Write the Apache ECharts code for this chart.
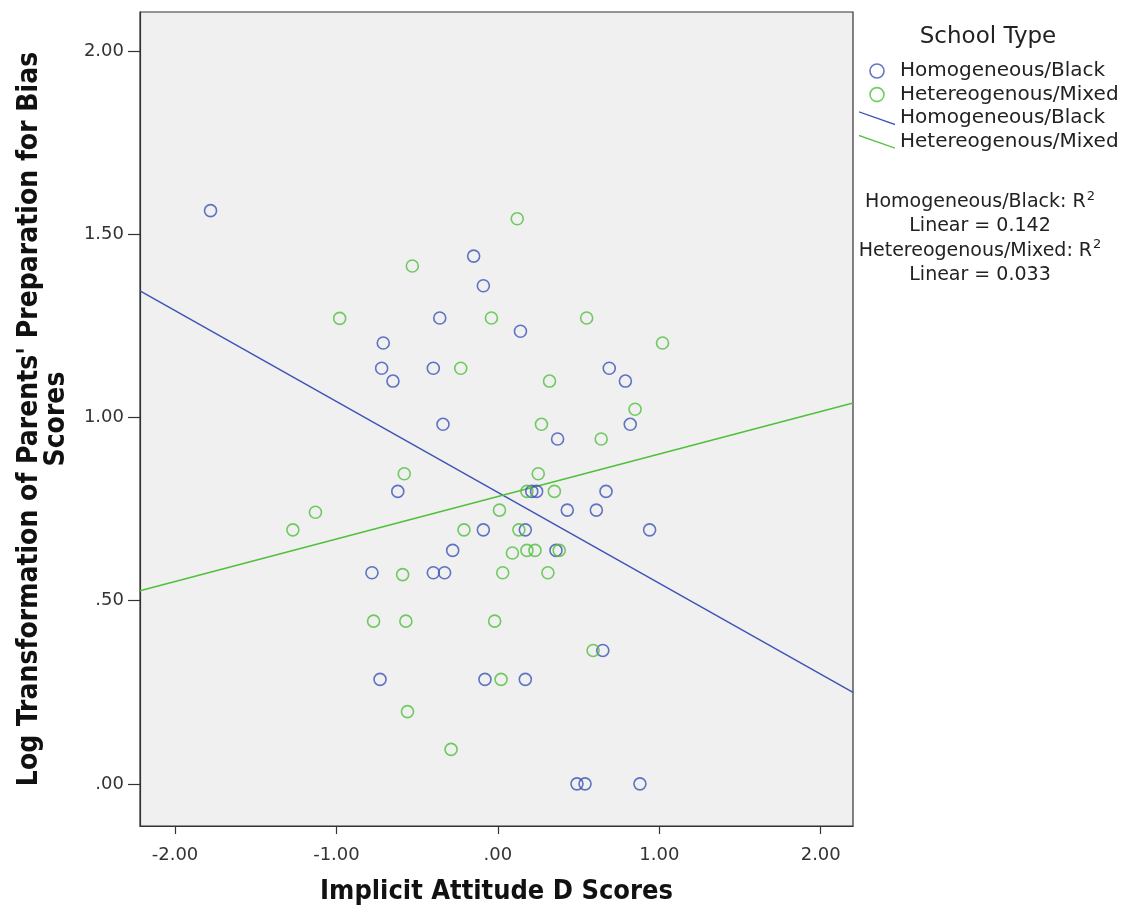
<!DOCTYPE html>
<html>
<head>
<meta charset="utf-8">
<script src="https://cdn.jsdelivr.net/npm/echarts@6/dist/echarts.min.js"></script>
<style>
html,body{margin:0;padding:0;background:#fff;}
#chart{width:1122px;height:911px;}
</style>
</head>
<body>
<div id="chart"></div>
<script>
// ---- Data ----
const seriesNames = ['Homogeneous/Black', 'Hetereogenous/Mixed'];

const blackX = [-1.78, -0.15, -0.09, -0.36, -0.71, -0.72, -0.65, -0.40, -0.34, -0.62,
                 0.14,  0.69,  0.79,  0.82,  0.37,  0.21,  0.24,  0.67,  0.43,  0.61,
                -0.09,  0.17,  0.94, -0.28,  0.36, -0.78, -0.40, -0.33,  0.65, -0.08,
                 0.17, -0.73,  0.49,  0.54,  0.88];
const blackY = [1.564, 1.440, 1.359, 1.271, 1.203, 1.134, 1.099, 1.134, 0.981, 0.798,
                1.235, 1.134, 1.099, 0.981, 0.941, 0.798, 0.798, 0.798, 0.747, 0.747,
                0.693, 0.693, 0.693, 0.637, 0.637, 0.576, 0.576, 0.576, 0.364, 0.285,
                0.285, 0.285, 0.000, 0.000, 0.000];

const mixedX = [-0.53, -0.98, -0.04, -0.23, -0.58,  0.12,  0.55,  1.02,  0.32,  0.85,
                 0.27,  0.64,  0.25,  0.18,  0.35,  0.01, -0.21,  0.13,  0.09,  0.18,
                 0.23,  0.38,  0.03,  0.31, -0.02,  0.59,  0.02, -0.29, -1.13, -1.27,
                -0.59, -0.77, -0.57, -0.56];
const mixedY = [1.413, 1.270, 1.271, 1.134, 0.846, 1.542, 1.271, 1.203, 1.099, 1.022,
                0.981, 0.941, 0.846, 0.798, 0.798, 0.747, 0.693, 0.693, 0.630, 0.637,
                0.637, 0.637, 0.576, 0.576, 0.444, 0.364, 0.285, 0.094, 0.741, 0.693,
                0.571, 0.444, 0.444, 0.197];

// linear fit lines: [intercept, slope]
const blackFit = [0.795, -0.248];
const mixedFit = [0.784, 0.116];
const rSquared = ['0.142', '0.033'];

const xTickValues = [-2, -1, 0, 1, 2];
const xTickLabels = ['-2.00', '-1.00', '.00', '1.00', '2.00'];
const yTickValues = [0, 0.5, 1, 1.5, 2];
const yTickLabels = ['.00', '.50', '1.00', '1.50', '2.00'];
const xRange = [-2.217, 2.200];
const yRange = [-0.115, 2.106];

// ---- Build ----
const blue = '#3c52b6';
const green = '#50bf3c';
const zip = (a, b) => a.map((v, i) => [v, b[i]]);
const fitLine = f => xRange.map(x => [x, f[0] + f[1] * x]);
const lineLabel = n => n + ' ';

const chart = echarts.init(document.getElementById('chart'));
const tickFont = { fontFamily: 'DejaVu Sans', fontSize: 18, color: '#333' };
const titleFont = { fontFamily: 'DejaVu Sans Condensed', fontWeight: 'bold', fontSize: 27, color: '#111' };
const txt = { fontFamily: 'DejaVu Sans', fontWeight: 'normal', color: '#222' };

chart.setOption({
  backgroundColor: '#fff',
  animation: false,
  grid: { left: 140, top: 12, right: 269, bottom: 85, show: true, backgroundColor: '#f0f0f0', borderColor: '#333', borderWidth: 1.2 },
  xAxis: {
    type: 'value', min: xRange[0], max: xRange[1],
    name: 'Implicit Attitude D Scores', nameLocation: 'middle', nameGap: 52,
    nameTextStyle: titleFont,
    axisLine: { show: true, onZero: false, lineStyle: { color: '#333', width: 1.2 } },
    axisTick: { show: true, length: 8, customValues: xTickValues, lineStyle: { color: '#333', width: 1.2 } },
    axisLabel: { customValues: xTickValues, formatter: v => xTickLabels[xTickValues.indexOf(Math.round(v * 100) / 100)], margin: 20, ...tickFont },
    splitLine: { show: false }
  },
  yAxis: {
    type: 'value', min: yRange[0], max: yRange[1],
    name: "Log Transformation of Parents' Preparation for Bias\nScores", nameLocation: 'middle', nameGap: 70,
    nameTextStyle: { ...titleFont, fontSize: 28, lineHeight: 27 },
    axisLine: { show: true, onZero: false, lineStyle: { color: '#333', width: 1.2 } },
    axisTick: { show: true, length: 12, customValues: yTickValues, lineStyle: { color: '#333', width: 1.2 } },
    axisLabel: { customValues: yTickValues, formatter: v => yTickLabels[yTickValues.indexOf(Math.round(v * 100) / 100)], margin: 16, ...tickFont },
    splitLine: { show: false }
  },
  legend: {
    orient: 'vertical', left: 854, top: 56, itemWidth: 36, itemHeight: 14, itemGap: 3.6,
    formatter: n => n.trim(),
    textStyle: { ...txt, fontSize: 20, lineHeight: 19 },
    selectedMode: false,
    data: [
      { name: seriesNames[0], icon: 'circle', itemStyle: { color: 'rgba(0,0,0,0)', borderColor: blue, borderWidth: 1.6 } },
      { name: seriesNames[1], icon: 'circle', itemStyle: { color: 'rgba(0,0,0,0)', borderColor: green, borderWidth: 1.6 } },
      { name: lineLabel(seriesNames[0]), icon: 'path://M0,0L36,12.6L36,14L0,1.4Z', itemStyle: { color: blue, borderWidth: 0 } },
      { name: lineLabel(seriesNames[1]), icon: 'path://M0,0L36,12.6L36,14L0,1.4Z', itemStyle: { color: green, borderWidth: 0 } }
    ]
  },
  title: [
    { text: 'School Type', left: 983, top: 21, textAlign: 'center',
      textStyle: { ...txt, fontSize: 23 } },
    { text: '{t|' + seriesNames[0] + ': R}{s|2}\n{t|Linear = ' + rSquared[0] + '}\n{t|' + seriesNames[1] + ': R}{s|2}\n{t|Linear = ' + rSquared[1] + '}',
      left: 975, top: 185, textAlign: 'center',
      textStyle: { ...txt, rich: {
        t: { ...txt, fontSize: 19, lineHeight: 24.3 },
        s: { ...txt, fontSize: 13, lineHeight: 24.3, verticalAlign: 'top', padding: [0, 0, 7, 1] }
      } } }
  ],
  series: [
    { name: seriesNames[0], type: 'scatter', data: zip(blackX, blackY), symbol: 'circle', symbolSize: 12, symbolKeepAspect: true,
      itemStyle: { color: 'rgba(0,0,0,0)', borderColor: blue, borderWidth: 1.6 }, z: 3 },
    { name: seriesNames[1], type: 'scatter', data: zip(mixedX, mixedY), symbol: 'circle', symbolSize: 12, symbolKeepAspect: true,
      itemStyle: { color: 'rgba(0,0,0,0)', borderColor: green, borderWidth: 1.6 }, z: 3 },
    { name: lineLabel(seriesNames[0]), type: 'line', data: fitLine(blackFit), showSymbol: false, symbol: 'none',
      lineStyle: { color: blue, width: 1.4 }, itemStyle: { color: blue }, z: 2 },
    { name: lineLabel(seriesNames[1]), type: 'line', data: fitLine(mixedFit), showSymbol: false, symbol: 'none',
      lineStyle: { color: green, width: 1.4 }, itemStyle: { color: green }, z: 2 }
  ]
});
</script>
</body>
</html>
